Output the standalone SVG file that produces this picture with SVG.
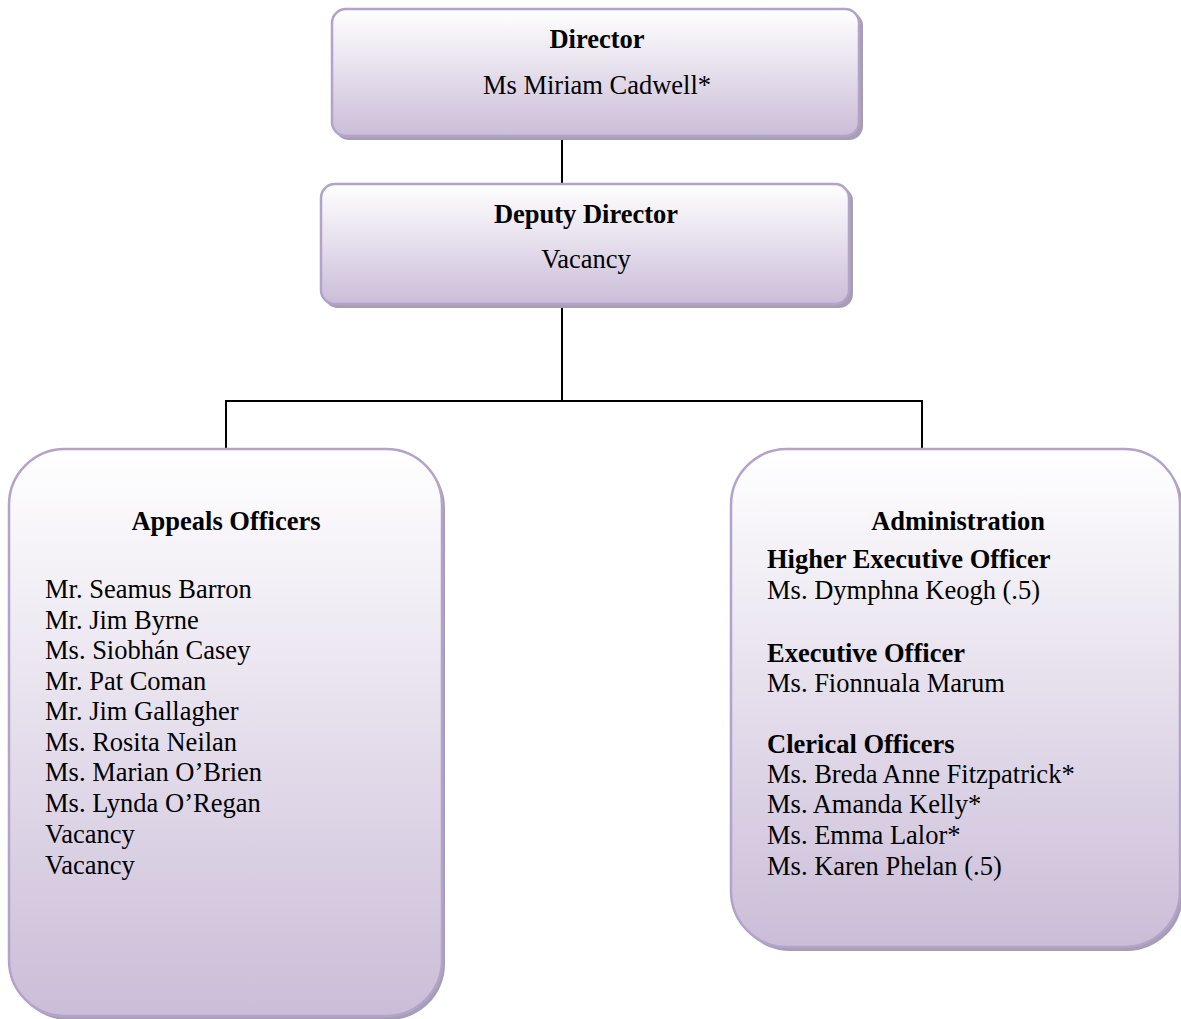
<svg xmlns="http://www.w3.org/2000/svg" width="1181" height="1019" viewBox="0 0 1181 1019">
<defs>
<linearGradient id="g" x1="0" y1="0" x2="0" y2="1">
<stop offset="0" stop-color="#ffffff"/>
<stop offset="1" stop-color="#cbbdd8"/>
</linearGradient>
<style>
.box{fill:url(#g);stroke:#b3a3cb;stroke-width:2.5}
.sh{fill:#a89eb4}
.t{font-family:"Liberation Serif","Times New Roman",serif;font-size:26.5px;fill:#000}
.b{font-weight:bold}
.c{text-anchor:middle}
.ln{stroke:#000;stroke-width:2;fill:none}
</style>
</defs>
<rect width="1181" height="1019" fill="#fff"/>
<g id="connectors">
<line class="ln" x1="562" y1="137" x2="562" y2="185"/>
<polyline class="ln" points="562,305 562,401 226,401 226,449"/>
<polyline class="ln" points="562,401 922,401 922,449"/>
</g>
<g id="director">
<rect class="sh" x="335" y="12" width="528" height="128" rx="14"/>
<rect class="box" x="332" y="9" width="527" height="127" rx="14"/>
<text class="t b c" x="597" y="48">Director</text>
<text class="t c" x="597" y="94">Ms Miriam Cadwell*</text>
</g>
<g id="deputy">
<rect class="sh" x="324" y="187" width="529" height="121" rx="14"/>
<rect class="box" x="321" y="184" width="528" height="120" rx="14"/>
<text class="t b c" x="586" y="223">Deputy Director</text>
<text class="t c" x="586" y="268">Vacancy</text>
</g>
<g id="appeals">
<rect class="sh" x="12" y="452" width="433" height="568" rx="56"/>
<rect class="box" x="9" y="449" width="433" height="567" rx="56"/>
<text class="t b c" x="226" y="530">Appeals Officers</text>
<text class="t" x="45" y="598">Mr. Seamus Barron</text>
<text class="t" x="45" y="629">Mr. Jim Byrne</text>
<text class="t" x="45" y="659">Ms. Siobhán Casey</text>
<text class="t" x="45" y="690">Mr. Pat Coman</text>
<text class="t" x="45" y="720">Mr. Jim Gallagher</text>
<text class="t" x="45" y="751">Ms. Rosita Neilan</text>
<text class="t" x="45" y="781">Ms. Marian O’Brien</text>
<text class="t" x="45" y="812">Ms. Lynda O’Regan</text>
<text class="t" x="45" y="843">Vacancy</text>
<text class="t" x="45" y="874">Vacancy</text>
</g>
<g id="administration">
<rect class="sh" x="734" y="452" width="449" height="499" rx="56"/>
<rect class="box" x="731" y="449" width="449" height="498" rx="56"/>
<text class="t b c" x="958" y="530">Administration</text>
<text class="t b" x="767" y="568">Higher Executive Officer</text>
<text class="t" x="767" y="599">Ms. Dymphna Keogh (.5)</text>
<text class="t b" x="767" y="662">Executive Officer</text>
<text class="t" x="767" y="692">Ms. Fionnuala Marum</text>
<text class="t b" x="767" y="753">Clerical Officers</text>
<text class="t" x="767" y="783">Ms. Breda Anne Fitzpatrick*</text>
<text class="t" x="767" y="813">Ms. Amanda Kelly*</text>
<text class="t" x="767" y="844">Ms. Emma Lalor*</text>
<text class="t" x="767" y="875">Ms. Karen Phelan (.5)</text>
</g>
</svg>
